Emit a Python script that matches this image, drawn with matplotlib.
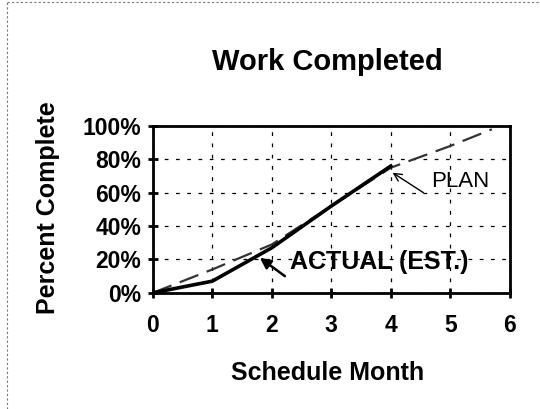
import matplotlib
matplotlib.use("Agg")
import matplotlib.pyplot as plt
from matplotlib.ticker import PercentFormatter

plt.rcParams["font.family"] = ["Liberation Sans", "DejaVu Sans"]

plan_month = [0, 1, 2, 3, 4, 5, 5.7]
plan_pct = [0, 14, 29, 52, 75, 88, 98]
actual_month = [0, 1, 2, 3, 4]
actual_pct = [0, 7, 27, 52, 76]
x_ticks = [0, 1, 2, 3, 4, 5, 6]
y_ticks = [0, 20, 40, 60, 80, 100]

fig = plt.figure(figsize=(5.4, 4.09), dpi=100)
ax = fig.add_axes([0.283, 0.284, 0.661, 0.408])

ax.plot(plan_month, plan_pct, color="#333333", lw=1.6, ls=(0, (9, 4)))
ax.plot(actual_month, actual_pct, color="black", lw=2.6)

ax.set_xlim(0, 6)
ax.set_ylim(0, 100)
ax.set_xticks(x_ticks)
ax.set_yticks(y_ticks)
ax.yaxis.set_major_formatter(PercentFormatter(decimals=0))
ax.grid(True, color="black", ls=(0, (3, 6)), lw=0.9)
for s in ax.spines.values():
    s.set_linewidth(2)
ax.tick_params(direction="inout", length=7, width=2, labelsize=16.5)
ax.tick_params(axis="x", pad=12)
ax.tick_params(axis="y", pad=5)
for lbl in ax.get_xticklabels() + ax.get_yticklabels():
    lbl.set_fontweight("bold")

ax.set_xlabel("Schedule Month", fontsize=18, fontweight="bold")
ax.set_ylabel("Percent Complete", fontsize=18, fontweight="bold")
ax.xaxis.set_label_coords(0.49, -0.41)
ax.yaxis.set_label_coords(-0.26, 0.51)
fig.text(0.607, 0.848, "Work Completed", fontsize=21, fontweight="bold", ha="center", va="center")

ax.text(4.67, 67, "PLAN", fontsize=16, va="center")
ax.annotate("", xy=(4.03, 72), xytext=(4.55, 60),
            arrowprops=dict(arrowstyle="->", color="black", lw=1, mutation_scale=14,
                            shrinkA=0, shrinkB=0))
ax.text(2.3, 18.5, "ACTUAL (EST.)", fontsize=18, fontweight="bold", va="center")
ax.annotate("", xy=(1.8, 21), xytext=(2.22, 10),
            arrowprops=dict(arrowstyle="-|>", color="black", lw=1.8, mutation_scale=16,
                            shrinkA=0, shrinkB=0))

# faint scan border on the left and top
fig.add_artist(plt.Line2D([0.013, 0.013], [0, 0.995], color="#777777", lw=0.8, ls=(0, (2, 2))))
fig.add_artist(plt.Line2D([0.013, 1], [0.995, 0.995], color="#777777", lw=0.8, ls=(0, (2, 2))))

fig.savefig("out.png", dpi=100)
